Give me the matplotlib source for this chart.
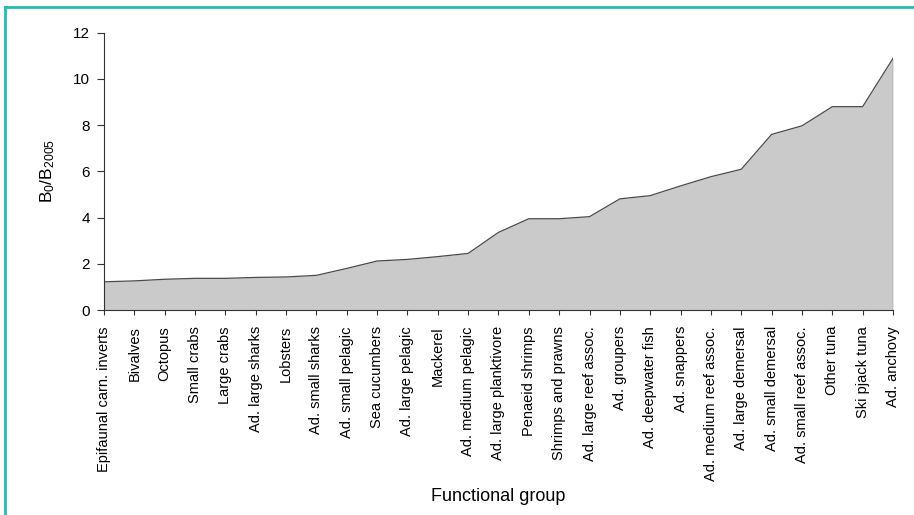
import numpy as np
import matplotlib.pyplot as plt
from matplotlib.lines import Line2D

plt.rcParams['font.family'] = ['Liberation Sans', 'DejaVu Sans']

# Functional groups, ordered by depletion ratio
groups = [
    'Epifaunal carn. inverts', 'Bivalves', 'Octopus', 'Small crabs', 'Large crabs',
    'Ad. large sharks', 'Lobsters', 'Ad. small sharks', 'Ad. small pelagic',
    'Sea cucumbers', 'Ad. large pelagic', 'Mackerel', 'Ad. medium pelagic',
    'Ad. large planktivore', 'Penaeid shrimps', 'Shrimps and prawns',
    'Ad. large reef assoc.', 'Ad. groupers', 'Ad. deepwater fish', 'Ad. snappers',
    'Ad. medium reef assoc.', 'Ad. large demersal', 'Ad. small demersal',
    'Ad. small reef assoc.', 'Other tuna', 'Ski pjack tuna', 'Ad. anchovy',
]
ratio = [
    1.22, 1.26, 1.33, 1.37, 1.37, 1.41, 1.43, 1.50, 1.80, 2.12,
    2.19, 2.31, 2.45, 3.36, 3.95, 3.95, 4.04, 4.81, 4.95, 5.37,
    5.77, 6.09, 7.60, 7.97, 8.80, 8.80, 10.89,
]
yticks = [0, 2, 4, 6, 8, 10, 12]

x = np.arange(len(groups))
y = np.array(ratio)

fig = plt.figure(figsize=(9.14, 5.15), dpi=100)
ax_h = 310 - 32.7
ax = fig.add_axes([104 / 914, 1 - 310 / 515, (893 - 104) / 914, ax_h / 515])

ax.fill_between(x, 0, y, color='#cacaca', linewidth=0)
ax.plot(x, y, color='#4a4a4a', linewidth=0.9)
ax.plot([x[-1], x[-1]], [0, y[-1]], color='#6a6a6a', linewidth=0.9)

ax.set_xlim(x[0], x[-1])
ax.set_ylim(0, 12)
ax.set_yticks(yticks)
ax.set_xticks(x)
ax.set_xticklabels(groups, rotation=90, fontsize=10.5)
ax.tick_params(axis='y', labelsize=11, length=5, width=0.8, color='#333333', pad=5)
ax.tick_params(axis='x', length=3.6, width=0.8, color='#333333', pad=8)

for side in ['top', 'right']:
    ax.spines[side].set_visible(False)
for side in ['left', 'bottom']:
    ax.spines[side].set_color('#333333')
    ax.spines[side].set_linewidth(0.8)

ax.set_ylabel(r'$\mathregular{B_0/B_{2005}}$', fontsize=12.5)
ax.yaxis.set_label_coords((57 - 104) / 789, 0.5)
ax.set_xlabel('Functional group', fontsize=13)
ax.xaxis.set_label_coords(0.5, (310 - 488) / ax_h)

# teal frame lines along top and left of the figure
fig.add_artist(Line2D([5 / 914, 1], [1 - 7 / 515, 1 - 7 / 515], color='#22bbb3', linewidth=2))
fig.add_artist(Line2D([5 / 914, 5 / 914], [0, 1 - 7 / 515], color='#22bbb3', linewidth=2))

fig.savefig('out.png', dpi=100)
